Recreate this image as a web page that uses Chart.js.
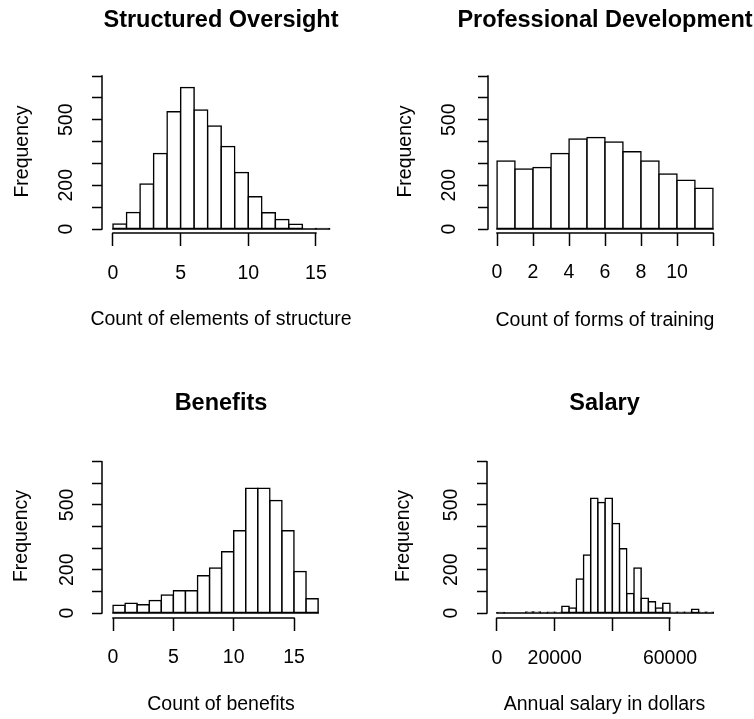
<!DOCTYPE html>
<html>
<head>
<meta charset="utf-8">
<title>Histograms</title>
<script src="https://cdn.jsdelivr.net/npm/chart.js@4.4.1/dist/chart.umd.min.js"></script>
<style>
    html, body { margin: 0; padding: 0; background: #fff; overflow: hidden; }
    #page { position: relative; width: 754px; height: 719px; overflow: hidden; background: #fff; }
    #page canvas { position: absolute; }
</style>
</head>
<body>
<div id="page">
    <canvas id="structureChart"></canvas>
    <canvas id="trainingChart"></canvas>
    <canvas id="benefitsChart"></canvas>
    <canvas id="salaryChart"></canvas>
</div>
<script>
// Bin counts
const structureCounts = [23, 75, 206, 346, 537, 647, 544, 471, 377, 258, 148, 74, 43, 22, 2, 1];
const trainingCounts = [311, 275, 281, 346, 412, 419, 398, 354, 311, 252, 223, 186];
const benefitsCounts = [36, 45, 38, 58, 83, 103, 103, 172, 208, 283, 380, 577, 577, 520, 380, 192, 66];
const salaryCounts = [1, 0, 0, 0, 5, 5, 1, 3, 4, 31, 23, 157, 268, 531, 511, 531, 414, 297, 90, 208, 68, 52, 23, 45, 3, 3, 3, 17, 4, 4];

// Bin widths (every histogram starts at 0)
const structureBin = 1;
const trainingBin = 1;
const benefitsBin = 1;
const salaryBin = 2500;

// Ticks and the labels R actually printed
const yTicks = [0, 100, 200, 300, 400, 500, 600, 700];
const yTickLabels = ['0', '', '200', '', '', '500', '', ''];
const structureTicks = [0, 5, 10, 15];
const structureTickLabels = ['0', '5', '10', '15'];
const trainingTicks = [0, 2, 4, 6, 8, 10, 12];
const trainingTickLabels = ['0', '2', '4', '6', '8', '10', ''];
const benefitsTicks = [0, 5, 10, 15];
const benefitsTickLabels = ['0', '5', '10', '15'];
const salaryTicks = [0, 20000, 40000, 60000];
const salaryTickLabels = ['0', '20000', '', '60000'];

const FONT = "'Liberation Sans', Arial, Helvetica, sans-serif";
const TEXT_SIZE = 19.5;
const TITLE_SIZE = 23.5;
const LINE = 1.5;
const X_TICK_LEN = 13;
const Y_TICK_LEN = 10;

Chart.defaults.font.family = FONT;
Chart.defaults.color = '#000';

// layout of each panel (page pixels for left/top, canvas pixels for the rest)
const panels = [
    { id: 'structureChart', title: 'Structured Oversight', xTitle: 'Count of elements of structure',
      counts: structureCounts, bin: structureBin, ticks: structureTicks, tickLabels: structureTickLabels,
      left: 0, top: 0, height: 350, axisWidth: 102, plotRight: 340, plotTop: 70, plotBottom: 233,
      xMin: -0.81, xMax: 16.78, yMin: -18.3, yMax: 727.5,
      titleY: 21, xLabelY: 274, xTitleY: 320, yLabelX: 67, yTitleX: 23 },
    { id: 'trainingChart', title: 'Professional Development', xTitle: 'Count of forms of training',
      counts: trainingCounts, bin: trainingBin, ticks: trainingTicks, tickLabels: trainingTickLabels,
      left: 377, top: 0, height: 350, axisWidth: 111, plotRight: 345, plotTop: 70, plotBottom: 233,
      xMin: -0.5, xMax: 12.5, yMin: -18.3, yMax: 727.5,
      titleY: 21, xLabelY: 273, xTitleY: 321, yLabelX: 73, yTitleX: 29 },
    { id: 'benefitsChart', title: 'Benefits', xTitle: 'Count of benefits',
      counts: benefitsCounts, bin: benefitsBin, ticks: benefitsTicks, tickLabels: benefitsTickLabels,
      left: 0, top: 384, height: 335, axisWidth: 102, plotRight: 340, plotTop: 70, plotBottom: 234,
      xMin: -0.912, xMax: 18.81, yMin: -23.1, yMax: 735.6,
      titleY: 20, xLabelY: 274, xTitleY: 321, yLabelX: 68, yTitleX: 22 },
    { id: 'salaryChart', title: 'Salary', xTitle: 'Annual salary in dollars',
      counts: salaryCounts, bin: salaryBin, ticks: salaryTicks, tickLabels: salaryTickLabels,
      left: 377, top: 384, height: 335, axisWidth: 110, plotRight: 345, plotTop: 70, plotBottom: 234,
      xMin: -3468, xMax: 78035, yMin: -23.1, yMax: 735.6,
      titleY: 20, xLabelY: 275, xTitleY: 321, yLabelX: 75, yTitleX: 27 }
];

// R-style extras: axis lines only from first to last tick, the baseline under
// the bins, and the x label centred on the plot without being squeezed
const rAxisLines = {
    id: 'rAxisLines',
    afterDatasetsDraw(chart, args, opts) {
        const { ctx, scales: { x, y } } = chart;
        ctx.save();
        ctx.strokeStyle = '#000';
        ctx.lineWidth = LINE;
        ctx.beginPath();
        ctx.moveTo(x.getPixelForValue(0) - LINE / 2, y.getPixelForValue(0));
        ctx.lineTo(x.getPixelForValue(opts.binEnd) + LINE / 2, y.getPixelForValue(0));
        ctx.stroke();
        ctx.restore();
    },
    afterDraw(chart, args, opts) {
        const { ctx, chartArea, scales: { x, y } } = chart;
        ctx.save();
        ctx.strokeStyle = '#000';
        ctx.lineWidth = LINE;
        ctx.beginPath();
        ctx.moveTo(x.getPixelForValue(x.ticks[0].value) - LINE / 2, chartArea.bottom);
        ctx.lineTo(x.getPixelForValue(x.ticks[x.ticks.length - 1].value) + LINE / 2, chartArea.bottom);
        ctx.moveTo(chartArea.left, y.getPixelForValue(y.ticks[0].value) + LINE / 2);
        ctx.lineTo(chartArea.left, y.getPixelForValue(y.ticks[y.ticks.length - 1].value) - LINE / 2);
        ctx.stroke();

        ctx.fillStyle = '#000';
        ctx.font = TEXT_SIZE + 'px ' + FONT;
        ctx.textAlign = 'center';
        ctx.textBaseline = 'middle';
        ctx.fillText(opts.xTitle, (chartArea.left + chartArea.right) / 2, opts.xTitleY);
        ctx.restore();
    }
};

function textWidth(text, size) {
    const ctx = document.createElement('canvas').getContext('2d');
    ctx.font = size + 'px ' + FONT;
    return ctx.measureText(text).width;
}

function makeHistogram(p) {
    const canvas = document.getElementById(p.id);
    canvas.width = p.plotRight + p.axisWidth;
    canvas.height = p.height;
    canvas.style.left = p.left + 'px';
    canvas.style.top = p.top + 'px';

    const titleLine = TITLE_SIZE * 1.2;
    const textLine = TEXT_SIZE * 1.2;
    const widest = Math.max(...yTickLabels.map(l => textWidth(l, TEXT_SIZE)));
    const textFont = { family: FONT, size: TEXT_SIZE };

    return new Chart(canvas, {
        type: 'bar',
        data: {
            datasets: [{
                data: p.counts.map((c, i) => ({ x: (i + 0.5) * p.bin, y: c })),
                backgroundColor: '#fff',
                borderColor: '#000',
                borderWidth: LINE,
                borderSkipped: false,
                inflateAmount: LINE / 2,
                barPercentage: 1,
                categoryPercentage: 1
            }]
        },
        options: {
            responsive: false,
            animation: false,
            devicePixelRatio: 1,
            events: [],
            layout: { padding: 0 },
            plugins: {
                legend: { display: false },
                tooltip: { enabled: false },
                title: {
                    display: true,
                    text: p.title,
                    color: '#000',
                    font: { family: FONT, size: TITLE_SIZE, weight: 'bold' },
                    padding: { top: p.titleY - titleLine / 2, bottom: p.plotTop - (p.titleY - titleLine / 2) - titleLine }
                },
                rAxisLines: { xTitle: p.xTitle, xTitleY: p.xTitleY, binEnd: p.counts.length * p.bin }
            },
            scales: {
                x: {
                    type: 'linear',
                    min: p.xMin,
                    max: p.xMax,
                    offset: false,
                    grid: { display: true, offset: false, drawOnChartArea: false, drawTicks: true, tickLength: X_TICK_LEN, tickColor: '#000', tickWidth: LINE },
                    border: { display: false },
                    ticks: {
                        autoSkip: false, minRotation: 0, maxRotation: 0, color: '#000', font: textFont,
                        padding: p.xLabelY - p.plotBottom - X_TICK_LEN - textLine / 2,
                        callback: (v, i) => p.tickLabels[i]
                    },
                    title: { display: false },
                    afterBuildTicks: s => { s.ticks = p.ticks.map(v => ({ value: v })); },
                    afterFit: s => { s.height = p.height - p.plotBottom; }
                },
                y: {
                    type: 'linear',
                    position: 'left',
                    min: p.yMin,
                    max: p.yMax,
                    grid: { display: true, drawOnChartArea: false, drawTicks: true, tickLength: Y_TICK_LEN, tickColor: '#000', tickWidth: LINE },
                    border: { display: false },
                    ticks: {
                        autoSkip: false, minRotation: 90, maxRotation: 90, crossAlign: 'center', color: '#000', font: textFont,
                        padding: p.axisWidth - Y_TICK_LEN - widest / 2 - p.yLabelX,
                        callback: (v, i) => yTickLabels[i]
                    },
                    title: {
                        display: true, text: 'Frequency', color: '#000', font: textFont,
                        padding: { top: p.yTitleX - textLine / 2, bottom: 0 }
                    },
                    afterBuildTicks: s => { s.ticks = yTicks.map(v => ({ value: v })); },
                    afterFit: s => { s.width = p.axisWidth; }
                },
                // empty right margin so the title centres over the plot, as in R
                yR: {
                    type: 'linear',
                    position: 'right',
                    display: true,
                    grid: { display: false },
                    border: { display: false },
                    ticks: { display: false },
                    afterFit: s => { s.width = p.axisWidth; }
                }
            }
        },
        plugins: [rAxisLines]
    });
}

panels.forEach(makeHistogram);
</script>
</body>
</html>
